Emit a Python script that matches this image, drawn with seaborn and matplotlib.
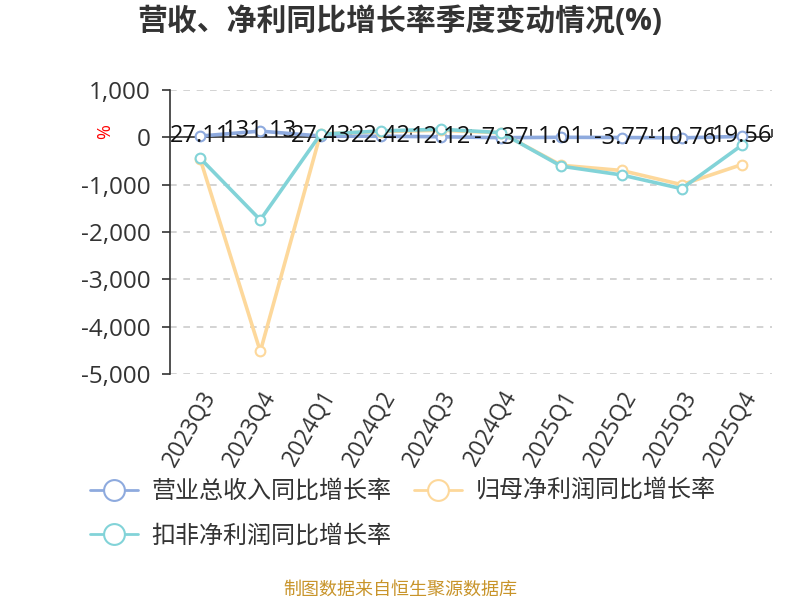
"""营收、净利同比增长率季度变动情况 line chart."""

import matplotlib
matplotlib.use("Agg")
import matplotlib.pyplot as plt
from matplotlib.lines import Line2D
import seaborn as sns

quarters = ["2023Q3", "2023Q4", "2024Q1", "2024Q2", "2024Q3",
            "2024Q4", "2025Q1", "2025Q2", "2025Q3", "2025Q4"]
revenue_yoy = [27.11, 131.13, 27.43, 22.42, 12.12, -7.37, 1.01, -3.77, -10.76, 19.56]
parent_np_yoy = [-450, -4525, 75, 120, 150, 95, -590, -700, -1000, -575]
deducted_np_yoy = [-440, -1745, 64, 135, 170, 100, -610, -795, -1085, -165]

series_names = ["营业总收入同比增长率", "归母净利润同比增长率", "扣非净利润同比增长率"]
series_colors = ["#8eaade", "#fdd89b", "#82d3d8"]
y_ticks = [1000, 0, -1000, -2000, -3000, -4000, -5000]

sns.set_theme(style="white")
plt.rcParams["font.family"] = ["Open Sans", "Noto Sans CJK SC", "DejaVu Sans"]
plt.rcParams["axes.unicode_minus"] = False

fig = plt.figure(figsize=(8, 6), dpi=100)
ax = fig.add_axes([0.2125, 0.3767, 0.7525, 0.4733])

x = list(range(len(quarters)))
for vals, name, c in zip([revenue_yoy, parent_np_yoy, deducted_np_yoy], series_names, series_colors):
    sns.lineplot(x=x, y=vals, ax=ax, color=c, linewidth=2.6, marker="o", markersize=7,
                 markerfacecolor="white", markeredgecolor=c, markeredgewidth=1.5,
                 sort=False, label=name, legend=False, zorder=3)

# data labels on the revenue series
for i, v in enumerate(revenue_yoy):
    ax.text(i, v, f"{v:.2f}", ha="center", va="center", fontsize=17, color="#111111", zorder=5)

ax.set_xlim(-0.5, len(quarters) - 0.5)
ax.set_ylim(-5000, 1000)
ax.set_yticks(y_ticks)
ax.set_yticklabels([f"{t:,}" for t in y_ticks], fontsize=17.5, color="#333333")
ax.set_xticks(x)
ax.set_xticklabels(quarters, rotation=60, ha="right", rotation_mode="anchor",
                   fontsize=16.5, color="#333333")
ax.tick_params(axis="x", length=0, pad=9)
ax.tick_params(axis="y", length=6, width=1.2, color="#333333", direction="out", left=True, pad=8)
for t in y_ticks:
    ax.axhline(t, color="#cccccc", linestyle=(0, (4, 4)), linewidth=1.2, zorder=1)
for side in ["top", "right", "bottom"]:
    ax.spines[side].set_visible(False)
ax.spines["left"].set_color("#333333")
ax.spines["left"].set_linewidth(1.2)
ax.set_xlabel("")
ax.set_ylabel("")

# x axis line at zero with ticks between categories
ax.axhline(0, color="#333333", linewidth=1.2, zorder=2)
sec = ax.secondary_xaxis(5 / 6)
sec.set_xticks([i + 0.5 for i in x])
sec.set_xticklabels([])
sec.tick_params(axis="x", length=6, width=1.2, color="#333333", direction="out")
sec.spines["bottom"].set_visible(False)
sec.spines["top"].set_visible(False)

fig.text(400 / 800, 1 - 22 / 600, "营收、净利同比增长率季度变动情况(%)", ha="center", va="center",
         fontsize=21.5, fontweight="bold", color="#333333")
fig.text(105 / 800, 1 - 132 / 600, "%", ha="center", va="center", fontsize=13,
         color="red", rotation=90)

handles = [Line2D([0], [0], color=c, linewidth=2, marker="o", markersize=15,
                  markerfacecolor="white", markeredgecolor=c, markeredgewidth=1.5)
           for c in series_colors]
order = [0, 2, 1]
fig.legend([handles[i] for i in order], [series_names[i] for i in order],
           loc="upper left", bbox_to_anchor=(90 / 800, 1 - 480 / 600), ncol=2,
           frameon=False, fontsize=17.3, handlelength=2.0, handletextpad=0.55,
           columnspacing=0.95, labelspacing=0.85, borderaxespad=0, borderpad=0,
           labelcolor="#333333")

fig.text(400 / 800, 1 - 590 / 600, "制图数据来自恒生聚源数据库", ha="center", va="center",
         fontsize=13, color="#c8942a")

fig.savefig("out.png", dpi=100)
